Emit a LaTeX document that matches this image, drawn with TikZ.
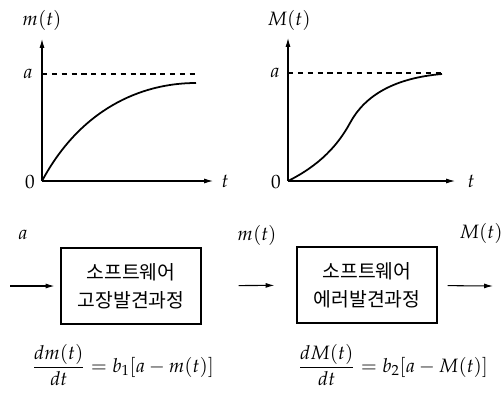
\documentclass[tikz,border=0pt]{standalone}
\usepackage{amsmath}
\usepackage{mathpazo}
\usepackage[no-math]{fontspec}
\newfontfamily\kr{Noto Sans CJK KR}
\usetikzlibrary{arrows.meta,positioning}
\tikzset{
  >={Latex[length=5pt,width=2.8pt]},
  every node/.style={font=\fontsize{11}{13}\selectfont,inner sep=1pt},
  axis/.style={->,line width=0.6pt},
  curve/.style={line width=1pt},
  limit/.style={line width=0.6pt,dash pattern=on 3pt off 2.6pt},
  box/.style={draw,line width=0.6pt,minimum width=2.8cm,minimum height=1.52cm,align=center,font=\kr\fontsize{11}{16}\selectfont},
  arrow/.style={->,line width=0.6pt},
}

\begin{document}
\begin{tikzpicture}[x=0.02cm,y=-0.02cm]
\useasboundingbox (0,0) rectangle (502,396);
% m(t) graph
\coordinate (o1) at (42,181);
\coordinate (y1) at (42,39);
\coordinate (x1) at (213,181);
\coordinate (a1) at (42,74);
\coordinate (e1) at (196,74);
\draw[axis] (o1) -- (y1);
\draw[axis] (o1) -- (x1);
\draw[limit] (a1) -- (e1);
\draw[curve] (o1) .. controls (80,110) and (140,83) .. (196,83);
\node (lm) at (42,20) {$m(t)$};
\node (la1) at (28,74) {$a$};
\node (lo1) at (30,182) {$0$};
\node (lt1) at (225,181) {$t$};
% M(t) graph
\coordinate (o2) at (288,181);
\coordinate (y2) at (288,38);
\coordinate (x2) at (455,181);
\coordinate (a2) at (288,73);
\coordinate (e2) at (442,73);
\draw[axis] (o2) -- (y2);
\draw[axis] (o2) -- (x2);
\draw[limit] (a2) -- (e2);
\draw[curve] (o2) .. controls (320,165) and (338,145) .. (350,123) .. controls (365,95) and (395,78) .. (442,74);
\node (lM) at (289,20) {$M(t)$};
\node (la2) at (275,73) {$a$};
\node (lo2) at (276,182) {$0$};
\node (lt2) at (471,181) {$t$};
% process blocks
\node[box] (fault) at (131,286) {소프트웨어\\고장발견과정};
\node[box] (error) at (367,285) {소프트웨어\\에러발견과정};
\coordinate (src) at (10,286);
\coordinate (dst) at (493,286);
\draw[arrow,shorten >=0.12cm] (src) -- (fault);
\draw[arrow,shorten <=0.74cm,shorten >=0.44cm] (fault) -- (error);
\draw[arrow,shorten <=0.2cm] (error) -- (dst);
\node (lin) at (23,235) {$a$};
\node (lmid) at (257,235) {$m(t)$};
\node (lout) at (481,233) {$M(t)$};
% equations
\node (eq1) at (123,365) {$\dfrac{dm(t)}{dt} = b_1[a - m(t)]$};
\node (eq2) at (393,365) {$\dfrac{dM(t)}{dt} = b_2[a - M(t)]$};
\end{tikzpicture}
\end{document}
